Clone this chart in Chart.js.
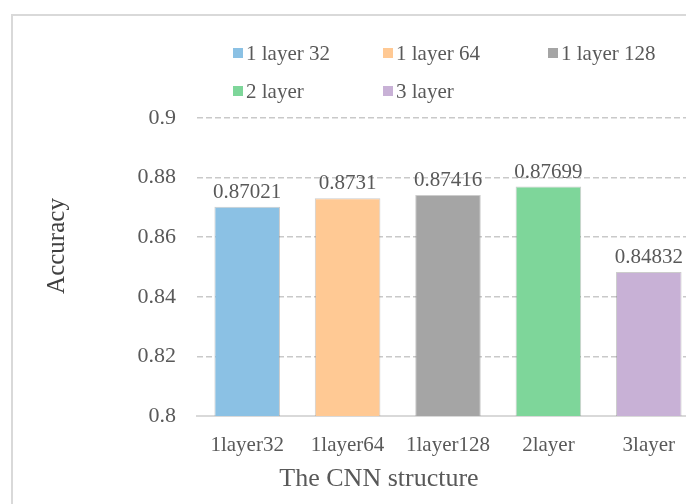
<!DOCTYPE html>
<html>
<head>
<meta charset="utf-8">
<script src="https://cdn.jsdelivr.net/npm/chart.js@4/dist/chart.umd.min.js"></script>
<style>
  html, body { margin: 0; padding: 0; background: #fff; overflow: hidden; width: 686px; height: 504px; }
  #frame { position: absolute; left: 11px; top: 14px; width: 900px; height: 700px;
           border-left: 2px solid #d9d9d9; border-top: 2px solid #d9d9d9; }
  #chart { position: absolute; left: 0; top: 0; }
</style>
</head>
<body>
<div id="frame"></div>
<canvas id="chart" width="720" height="504"></canvas>
<script>
// CNN structure comparison: accuracy per configuration
const categories = ['1layer32', '1layer64', '1layer128', '2layer', '3layer'];
const legendNames = ['1 layer 32', '1 layer 64', '1 layer 128', '2 layer', '3 layer'];
const accuracy = [0.87021, 0.8731, 0.87416, 0.87699, 0.84832];
const barColors = ['#8BC1E4', '#FFC994', '#A5A5A5', '#7ED69A', '#C8B1D6'];
const yTicks = [0.8, 0.82, 0.84, 0.86, 0.88, 0.9];

const SERIF = '"Liberation Serif", "Times New Roman", serif';
const GREY = '#595959';

// value labels above each bar
const valueLabels = {
  id: 'valueLabels',
  afterDatasetsDraw(chart) {
    const ctx = chart.ctx;
    const meta = chart.getDatasetMeta(0);
    ctx.save();
    ctx.font = '21px ' + SERIF;
    ctx.fillStyle = GREY;
    ctx.textAlign = 'center';
    ctx.textBaseline = 'alphabetic';
    meta.data.forEach((bar, i) => {
      ctx.fillText(String(accuracy[i]), bar.x, bar.y - 9);
    });
    ctx.restore();
  }
};

// grid-style legend and axis titles
const decorations = {
  id: 'decorations',
  afterDraw(chart) {
    const ctx = chart.ctx;
    ctx.save();
    const cols = [233, 383, 548];
    const rows = [53, 91];
    ctx.font = '21px ' + SERIF;
    ctx.textBaseline = 'middle';
    ctx.textAlign = 'left';
    legendNames.forEach((name, i) => {
      const x = cols[i % 3];
      const y = rows[Math.floor(i / 3)];
      ctx.fillStyle = barColors[i];
      ctx.fillRect(x, y - 5, 10, 10);
      ctx.fillStyle = GREY;
      ctx.fillText(name, x + 13, y + 1);
    });

    ctx.font = '26px ' + SERIF;
    ctx.fillStyle = GREY;
    ctx.textAlign = 'center';
    ctx.fillText('The CNN structure', 379, 479);

    ctx.translate(57, 246);
    ctx.rotate(-Math.PI / 2);
    ctx.font = '25px ' + SERIF;
    ctx.fillStyle = '#404040';
    ctx.fillText('Accuracy', 0, 0);
    ctx.restore();
  }
};

new Chart(document.getElementById('chart'), {
  type: 'bar',
  data: {
    labels: categories,
    datasets: [{
      data: accuracy,
      backgroundColor: barColors,
      borderColor: 'rgba(110,110,110,0.35)',
      borderWidth: 1,
      barPercentage: 0.653,
      categoryPercentage: 1
    }]
  },
  options: {
    responsive: false,
    devicePixelRatio: 1,
    animation: false,
    layout: { padding: { left: 0, top: 118, right: 21, bottom: 0 } },
    plugins: { legend: { display: false }, tooltip: { enabled: false } },
    scales: {
      x: {
        grid: { display: false },
        border: { display: true, color: '#d9d9d9', width: 2 },
        ticks: { font: { family: SERIF, size: 21 }, color: GREY, padding: 9, maxRotation: 0 },
        afterFit(scale) { scale.height = 88; }
      },
      y: {
        min: 0.8,
        max: 0.9,
        afterBuildTicks(scale) { scale.ticks = yTicks.map(v => ({ value: v })); },
        ticks: {
          font: { family: SERIF, size: 22 },
          color: GREY,
          padding: 21,
          callback: v => String(parseFloat(Number(v).toFixed(2)))
        },
        grid: {
          drawTicks: false,
          color: ctx => (ctx.tick && Math.abs(ctx.tick.value - 0.8) < 1e-9) ? 'rgba(0,0,0,0)' : '#c9c9c9',
          lineWidth: 1.5
        },
        border: { display: false, dash: [6, 3] },
        afterFit(scale) { scale.width = 197; }
      }
    }
  },
  plugins: [valueLabels, decorations]
});
</script>
</body>
</html>
